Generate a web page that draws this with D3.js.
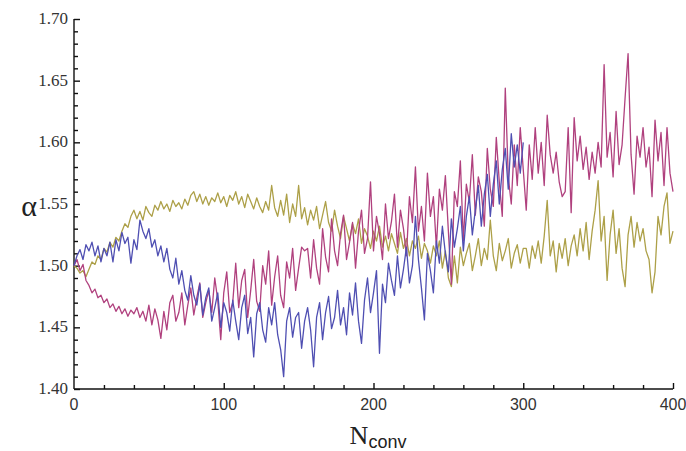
<!DOCTYPE html>
<html><head><meta charset="utf-8">
<script src="https://cdn.jsdelivr.net/npm/d3@7"></script>
<style>body{margin:0;background:#fff}</style>
</head><body>
<svg id="c" width="686" height="451"></svg>
<script>
const xStep = 2;
const blueValues = [1.500,1.508,1.513,1.505,1.517,1.512,1.519,1.508,1.516,1.503,1.514,1.508,1.519,1.503,1.521,1.512,1.527,1.518,1.523,1.502,1.521,1.513,1.537,1.528,1.522,1.530,1.515,1.521,1.508,1.516,
1.503,1.514,1.497,1.490,1.506,1.485,1.496,1.480,1.472,1.492,1.476,1.468,1.485,1.460,1.474,1.482,1.455,1.466,1.478,1.450,1.470,1.462,1.447,1.472,1.455,1.440,1.466,1.476,1.445,1.458,1.426,1.461,1.470,1.448,1.438,1.466,1.452,1.470,1.444,1.432,1.410,1.455,1.466,1.442,1.458,
1.462,1.433,1.455,1.466,1.448,1.418,1.458,1.470,1.440,1.462,1.475,1.449,1.458,1.480,1.452,1.466,1.444,1.478,1.460,1.486,1.455,1.437,1.472,1.490,1.462,1.478,1.496,1.429,1.485,1.470,1.502,1.488,1.476,1.508,1.482,1.497,1.515,1.486,1.500,1.540,1.505,1.482,1.456,1.510,1.496,1.478,1.520,1.502,1.532,1.510,1.495,1.538,1.515,1.530,1.548,1.512,1.540,1.556,1.525,1.545,1.565,1.532,1.558,1.574,1.540,1.566,1.585,1.550,1.578,1.595,1.562,1.607,1.580,1.598,1.575,1.600];
const magentaValues = [1.500,1.505,1.496,1.501,1.488,1.484,1.478,1.481,1.474,1.476,1.470,1.473,1.466,1.469,1.463,1.467,1.461,1.465,1.459,1.464,1.461,1.466,1.458,1.463,1.455,1.468,1.452,1.465,1.456,1.441,
1.463,1.448,1.470,1.476,1.455,1.462,1.478,1.452,1.468,1.482,1.460,1.474,1.486,1.458,1.470,1.480,1.462,1.490,1.472,1.440,
1.478,1.495,1.462,1.470,1.502,1.466,1.488,1.497,1.458,1.480,1.505,1.471,1.463,1.500,1.485,1.512,1.468,1.491,1.508,1.476,1.466,1.503,1.490,1.514,1.480,1.498,1.515,1.512,1.514,1.490,1.521,1.498,1.485,1.530,1.507,1.495,1.538,1.512,1.500,1.526,1.541,1.505,1.519,1.535,1.498,1.528,1.545,1.510,1.522,1.568,1.512,1.540,1.526,1.505,1.550,1.522,1.536,1.558,1.515,1.545,1.530,1.508,1.556,1.535,1.580,1.528,1.548,1.520,1.575,1.540,1.556,1.515,1.562,1.545,1.573,1.528,1.485,1.560,1.548,1.585,1.520,1.566,1.552,1.590,1.541,1.572,1.560,1.532,1.595,1.562,1.548,1.604,1.568,1.540,1.644,1.572,1.550,1.598,1.565,1.612,1.578,
1.545,1.598,1.570,1.612,1.575,1.600,1.565,1.622,1.590,1.575,1.592,1.568,1.556,1.560,1.612,1.543,1.620,1.585,1.605,1.578,1.596,1.570,1.592,1.575,1.600,1.580,1.663,1.588,1.608,1.572,1.625,1.582,1.598,1.636,1.672,1.590,1.558,1.605,1.588,1.612,1.580,1.596,1.556,1.618,1.585,1.608,1.565,1.612,1.575,1.560];
const oliveValues = [1.500,1.498,1.494,1.496,1.491,1.497,1.503,1.501,1.508,1.505,1.514,1.511,1.519,1.515,1.523,1.520,1.528,1.534,1.531,1.540,1.545,1.538,1.544,1.537,1.548,1.543,1.540,1.549,1.545,1.552,1.546,1.550,1.544,1.553,1.548,1.551,1.546,1.554,1.549,1.557,1.560,1.552,1.558,1.550,1.556,1.549,1.555,1.552,1.559,1.551,1.556,1.548,1.557,1.553,1.560,1.550,1.556,1.547,1.558,1.552,1.546,1.555,1.548,1.543,1.552,1.545,1.565,1.547,1.540,1.553,1.541,1.558,1.535,1.550,1.540,1.565,1.538,1.547,1.533,1.545,
1.537,1.548,1.530,1.541,1.552,1.535,1.528,1.545,1.532,1.522,1.540,1.530,1.520,1.534,1.526,1.538,1.518,1.530,1.524,1.514,1.528,1.520,1.532,1.515,1.524,1.512,1.526,1.518,1.510,1.527,1.514,1.522,1.508,1.520,1.514,1.524,1.506,1.518,1.512,1.502,1.516,1.508,1.520,1.498,1.512,1.490,1.483,1.508,1.486,1.515,1.500,1.510,1.518,1.496,1.508,1.522,1.500,1.514,1.505,1.537,1.508,1.496,1.518,1.504,1.512,1.522,1.498,1.510,1.517,1.502,1.514,
1.514,1.498,1.516,1.506,1.520,1.502,1.524,1.553,1.508,1.520,1.495,1.518,1.506,1.522,1.500,1.516,1.525,1.508,1.530,1.512,1.535,1.505,1.528,1.545,1.569,1.520,1.540,1.488,1.525,1.545,1.510,1.530,1.498,1.483,1.525,1.540,1.515,1.535,1.520,1.530,1.512,1.505,1.478,1.495,1.540,1.525,1.548,1.559,1.518,1.528];
const xTicks = [0,100,200,300,400];
const yTicks = [1.40,1.45,1.50,1.55,1.60,1.65,1.70];
const seriesColors = {olive:"#ada048", magenta:"#b0417e", blue:"#4f4fb2"};

const svg = d3.select("#c");
const x = d3.scaleLinear().domain([0,400]).range([74,673]);
const y = d3.scaleLinear().domain([1.40,1.70]).range([389,19]);

const gx = svg.append("g").attr("transform","translate(0,389)");
gx.call(d3.axisBottom(x).tickValues(d3.range(0,401,20)).tickSize(-4).tickFormat(""));
gx.call(g=>g.selectAll(".tick line").filter(d=>d%100===0).attr("y2",-6));
gx.selectAll(".tick").filter(d=>d===0).select("line").remove();
gx.select(".domain").attr("d","M74,0H673");
gx.selectAll("text.lbl").data(xTicks).enter().append("text")
  .attr("x",d=>x(d)).attr("y",21).attr("text-anchor","middle")
  .style("font-family","'Liberation Sans',Arial,sans-serif").style("font-size","16px").attr("fill","#333").text(d=>d);

const gy = svg.append("g").attr("transform","translate(74,0)");
gy.call(d3.axisLeft(y).tickValues(d3.range(0,31).map(i=>1.40+i*0.01)).tickSize(-4).tickFormat(""));
gy.call(g=>g.selectAll(".tick line").filter((d,i)=>i%5===0).attr("x2",6));
gy.select(".domain").attr("d","M0,19V389");
gy.selectAll("text.lbl").data(yTicks).enter().append("text")
  .attr("x",-6).attr("y",d=>y(d)+5).attr("text-anchor","end")
  .style("font-family","'Liberation Serif','Times New Roman',serif").style("font-size","17px").attr("fill","#333").text(d=>d.toFixed(2));
svg.selectAll(".domain, .tick line").attr("stroke","#111").attr("stroke-width",1.4);

const line = d3.line().x((d,i)=>x(i*xStep)).y(d=>y(d));
[["olive",oliveValues],["magenta",magentaValues],["blue",blueValues]].forEach(([k,v])=>{
  svg.append("path").datum(v).attr("d",line).attr("fill","none")
    .attr("stroke",seriesColors[k]).attr("stroke-width",1.3).attr("stroke-linejoin","round");
});

svg.append("text").attr("x",29).attr("y",216).attr("text-anchor","middle")
  .style("font-family","'Liberation Serif',serif").style("font-size","30px").attr("fill","#222").text("α");
const t = svg.append("text").attr("x",378).attr("y",444).attr("text-anchor","middle").attr("fill","#222");
t.append("tspan").style("font-family","'Liberation Serif',serif").style("font-size","26px").text("N");
t.append("tspan").attr("dy",4).style("font-family","'Liberation Sans',sans-serif").style("font-size","18px").text("conv");
</script>
</body></html>
